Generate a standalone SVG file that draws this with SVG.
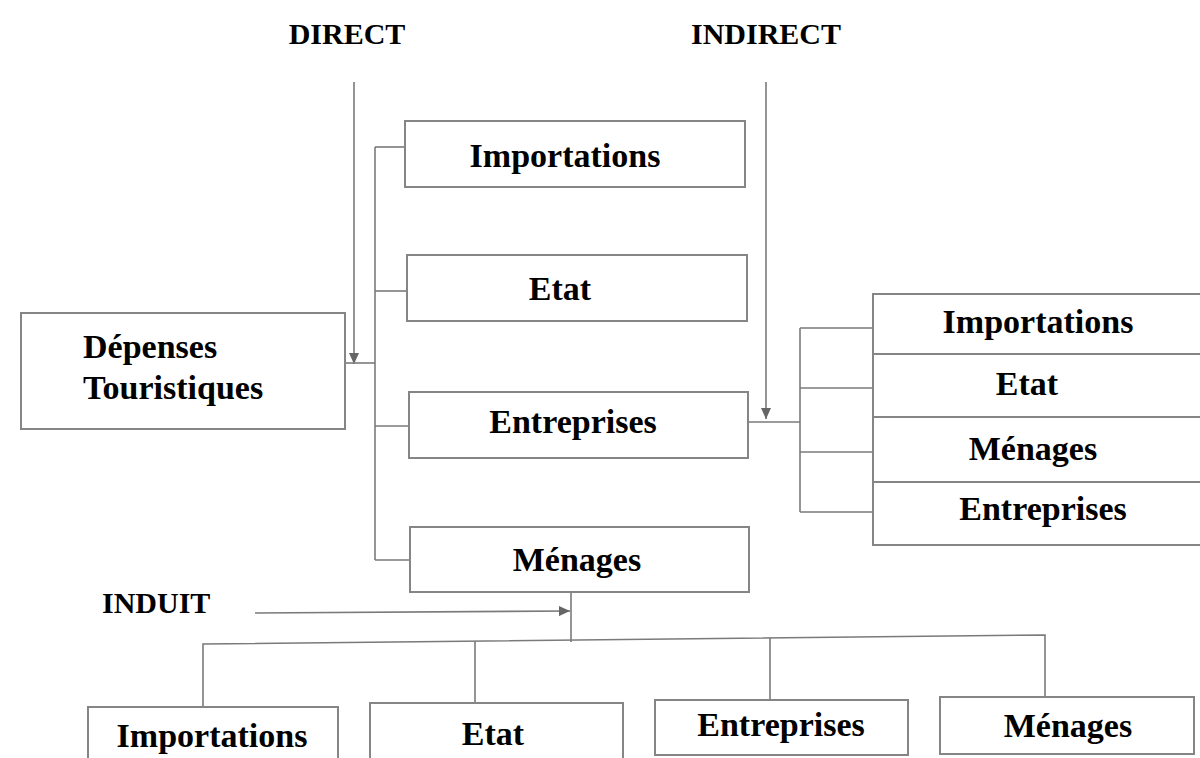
<svg xmlns="http://www.w3.org/2000/svg" width="1200" height="758" viewBox="0 0 1200 758">
<style>
.box{fill:#fff;stroke:#858585;stroke-width:2}
.t{font-family:"Liberation Serif","Times New Roman",serif;font-weight:bold;font-size:34px;fill:#000;text-anchor:middle}
.tl{font-family:"Liberation Serif","Times New Roman",serif;font-weight:bold;font-size:34px;fill:#000;text-anchor:start}
.h{font-family:"Liberation Serif","Times New Roman",serif;font-weight:bold;font-size:30px;fill:#000}
.c{fill:none;stroke:#7a7a7a;stroke-width:1.6}
</style>
<defs>
<marker id="ah" markerUnits="userSpaceOnUse" markerWidth="12" markerHeight="10" refX="11" refY="5" orient="auto">
<path d="M0,0 L11,5 L0,10 Z" fill="#666"/>
</marker>
</defs>
<rect width="1200" height="758" fill="#fff"/>
<g id="labels">
<text class="h" x="347" y="44" text-anchor="middle">DIRECT</text>
<text class="h" x="766" y="44" text-anchor="middle">INDIRECT</text>
<text class="h" x="102" y="613">INDUIT</text>
</g>
<g id="connectors">
<path class="c" d="M354,82 L354,364" marker-end="url(#ah)"/>
<path class="c" d="M345,363 L375,363"/>
<path class="c" d="M375,147 L375,560"/>
<path class="c" d="M375,147 L405,147"/>
<path class="c" d="M375,291 L407,291"/>
<path class="c" d="M375,426 L409,426"/>
<path class="c" d="M375,560 L410,560"/>
<path class="c" d="M748,422 L800,422"/>
<path class="c" d="M766,82 L766,419" marker-end="url(#ah)"/>
<path class="c" d="M800,328 L800,512"/>
<path class="c" d="M800,328 L873,328"/>
<path class="c" d="M800,388 L873,388"/>
<path class="c" d="M800,452 L873,452"/>
<path class="c" d="M800,512 L873,512"/>
<path class="c" d="M571,592 L571,642"/>
<path class="c" d="M255,613 L570,611" marker-end="url(#ah)"/>
<path class="c" d="M203,707 L203,644 L1045,635 L1045,697"/>
<path class="c" d="M475,641 L475,703"/>
<path class="c" d="M770,638 L770,700"/>
</g>
<g id="depenses">
<rect class="box" x="21" y="313" width="324" height="116"/>
<text class="tl" x="83" y="358">Dépenses</text>
<text class="tl" x="83" y="399">Touristiques</text>
</g>
<g id="d-importations">
<rect class="box" x="405" y="121" width="340" height="66"/>
<text class="t" x="565" y="167">Importations</text>
</g>
<g id="d-etat">
<rect class="box" x="407" y="255" width="340" height="66"/>
<text class="t" x="560" y="300">Etat</text>
</g>
<g id="d-entreprises">
<rect class="box" x="409" y="392" width="339" height="66"/>
<text class="t" x="573" y="433">Entreprises</text>
</g>
<g id="d-menages">
<rect class="box" x="410" y="527" width="339" height="65"/>
<text class="t" x="577" y="571">Ménages</text>
</g>
<g id="i-importations">
<rect class="box" x="873" y="294" width="335" height="60"/>
<text class="t" x="1038" y="333">Importations</text>
</g>
<g id="i-etat">
<rect class="box" x="873" y="354" width="335" height="63"/>
<text class="t" x="1027" y="395">Etat</text>
</g>
<g id="i-menages">
<rect class="box" x="873" y="417" width="335" height="65"/>
<text class="t" x="1033" y="460">Ménages</text>
</g>
<g id="i-entreprises">
<rect class="box" x="873" y="482" width="335" height="63"/>
<text class="t" x="1043" y="520">Entreprises</text>
</g>
<g id="n-importations">
<rect class="box" x="88" y="707" width="250" height="70"/>
<text class="t" x="212" y="747">Importations</text>
</g>
<g id="n-etat">
<rect class="box" x="370" y="703" width="253" height="70"/>
<text class="t" x="493" y="745">Etat</text>
</g>
<g id="n-entreprises">
<rect class="box" x="655" y="700" width="253" height="55"/>
<text class="t" x="781" y="736">Entreprises</text>
</g>
<g id="n-menages">
<rect class="box" x="940" y="697" width="254" height="57"/>
<text class="t" x="1068" y="737">Ménages</text>
</g>
</svg>
